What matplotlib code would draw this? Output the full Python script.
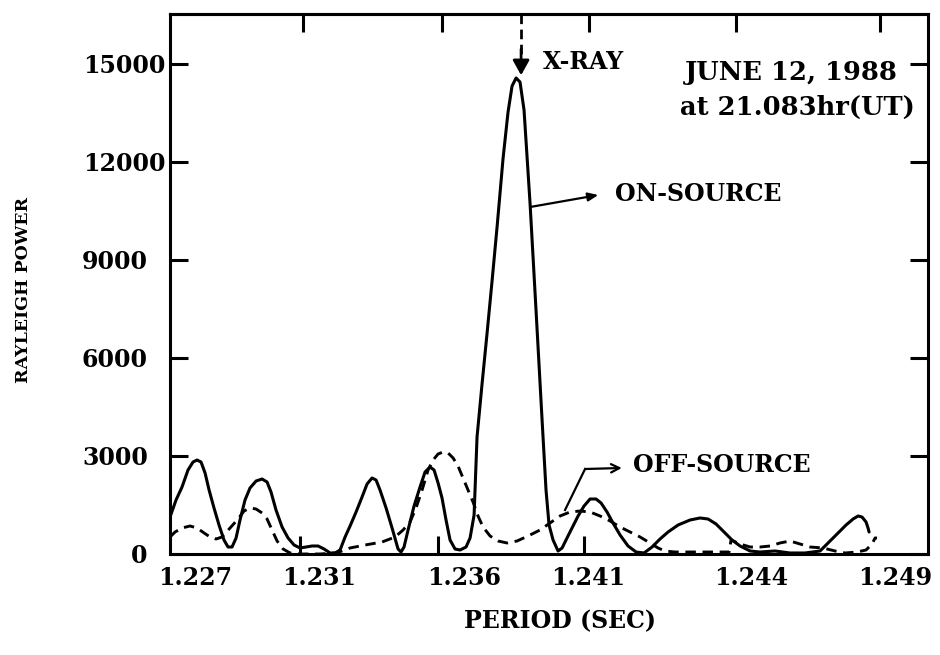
import matplotlib
matplotlib.use('Agg')
import matplotlib.pyplot as plt
from matplotlib.transforms import ScaledTranslation

plt.rcParams['font.family'] = ['DejaVu Serif']
plt.rcParams['font.weight'] = 'bold'

# ---- data (x is a relative position across the period axis, 0..100) ----
on_x = [0.0, 0.79, 1.58, 2.37, 3.03, 3.56, 4.09, 4.62, 5.15, 5.80,
        6.46, 7.12, 7.65, 8.18, 8.71, 9.23, 9.89, 10.55, 11.35, 12.14,
        12.80, 13.32, 13.98, 14.78, 15.57, 16.36, 17.15, 17.94, 18.73, 19.53,
        20.32, 21.11, 21.77, 22.43, 23.09, 23.75, 24.54, 25.33, 25.99, 26.65,
        27.18, 27.70, 28.50, 29.29, 30.08, 30.47, 30.87, 31.40, 32.19, 32.98,
        33.64, 34.30, 34.83, 35.36, 35.88, 36.41, 36.94, 37.60, 38.26, 39.05,
        39.58, 40.11, 40.50, 41.16, 41.82, 42.48, 43.14, 43.93, 44.59, 45.12,
        45.65, 46.17, 46.70, 47.49, 48.28, 49.08, 49.60, 50.00, 50.53, 51.19,
        51.72, 52.37, 53.03, 53.83, 54.62, 55.41, 56.20, 56.86, 57.65, 58.44,
        59.37, 60.42, 61.48, 62.53, 63.59, 64.64, 65.70, 67.02, 68.60, 69.92,
        70.98, 72.03, 73.09, 74.14, 75.20, 76.52, 77.84, 79.82, 81.79, 83.77,
        85.75, 87.07, 88.13, 89.18, 90.11, 90.77, 91.29, 91.82, 92.08, 92.22]
on_power = [1132, 1652, 2050, 2570, 2815, 2876, 2815, 2479, 1958, 1408,
            887, 428, 214, 214, 490, 1040, 1652, 2020, 2234, 2295,
            2203, 1897, 1346, 826, 490, 275, 184, 214, 245, 245,
            153, 31, 31, 122, 520, 857, 1285, 1744, 2142, 2326,
            2264, 1958, 1408, 796, 153, 61, 214, 734, 1469, 2050,
            2509, 2662, 2570, 2173, 1714, 1040, 428, 153, 122, 214,
            490, 1193, 3580, 5202, 6750, 8350, 10000, 12100, 13525, 14321,
            14566, 14443, 13586, 10741, 7466, 4100, 1958, 887, 428, 92,
            184, 490, 796, 1163, 1469, 1683, 1683, 1561, 1285, 949,
            581, 245, 61, 31, 214, 459, 673, 887, 1040, 1102,
            1071, 918, 673, 428, 245, 92, 61, 92, 31, 31,
            92, 398, 643, 887, 1071, 1163, 1132, 979, 796, 673]

off_x = [0.0, 0.66, 1.58, 2.64, 3.56, 4.49, 5.28, 6.07, 6.86, 7.92,
         8.97, 9.76, 10.55, 11.35, 12.14, 12.80, 13.46, 14.12, 14.91, 15.83,
         17.15, 19.79, 21.77, 22.69, 23.75, 25.73, 27.97, 29.68, 30.74, 31.66,
         32.45, 33.25, 34.04, 34.70, 35.36, 36.02, 36.68, 37.34, 37.99, 38.65,
         39.31, 39.97, 40.63, 41.29, 42.22, 43.27, 44.46, 45.78, 47.23, 48.81,
         50.13, 51.45, 52.77, 54.09, 55.41, 56.73, 58.05, 59.37, 60.69, 62.01,
         63.32, 64.38, 65.30, 66.62, 68.60, 70.58, 72.56, 73.75, 74.01, 75.20,
         76.52, 77.84, 79.16, 80.47, 81.79, 83.11, 84.43, 86.15, 87.73, 89.05,
         90.63, 91.82, 92.61, 93.01, 93.27]
off_power = [520, 673, 796, 857, 796, 643, 520, 459, 520, 796,
             1071, 1316, 1408, 1377, 1255, 1071, 734, 398, 153, 31,
             0, 0, 31, 92, 184, 275, 367, 520, 734, 979,
             1408, 1958, 2570, 2876, 3060, 3121, 3091, 2938, 2693, 2326,
             1958, 1591, 1163, 826, 551, 398, 337, 398, 551, 734,
             949, 1163, 1285, 1316, 1285, 1163, 1010, 826, 673, 520,
             337, 184, 92, 61, 61, 61, 61, 61, 428, 306,
             214, 214, 245, 337, 398, 306, 214, 184, 92, 31,
             61, 122, 306, 490, 490]

xtick_labels = ['1.227', '1.231', '1.236', '1.241', '1.244', '1.249']
xtick_label_pos = [3.30, 19.66, 38.79, 55.15, 76.65, 95.65]
xtick_marks_bottom = [17.15, 35.36, 54.62]
xtick_marks_top = [17.55, 35.88, 55.28, 74.67, 93.67]
ytick_vals = [0, 3000, 6000, 9000, 12000, 15000]
ytick_labels = ['0', '3000', '6000', '9000', '12000', '15000']
xray_x = 46.31

# ---- figure ----
fig = plt.figure(figsize=(9.4, 6.55), dpi=100)
ax = fig.add_axes([0.1809, 0.1542, 0.8064, 0.8244])
ax.set_xlim(0, 100)
ax.set_ylim(0, 16524)

lw = 2.2
ax.plot(on_x, on_power, color='black', lw=lw, solid_joinstyle='round',
        solid_capstyle='round')
ax.plot(off_x, off_power, color='black', lw=lw * 0.95, dashes=(3.6, 2.3),
        dash_joinstyle='round')

for s in ax.spines.values():
    s.set_linewidth(lw)

fs = 17
# x ticks: labels at hand-lettered positions, marks separately
ax.set_xticks(xtick_label_pos)
ax.set_xticklabels(xtick_labels, fontsize=fs, fontweight='bold')
ax.tick_params(axis='x', which='major', length=0, pad=9)
ax.set_xticks(xtick_marks_bottom, minor=True)
ax.tick_params(axis='x', which='minor', direction='in', length=13, width=lw,
               bottom=True, top=False)

sec = ax.secondary_xaxis('top')
sec.set_xticks(xtick_marks_top)
sec.set_xticklabels([])
sec.tick_params(direction='in', length=13, width=lw)
sec.spines['top'].set_linewidth(lw)

ax.set_yticks(ytick_vals)
ax.set_yticklabels(ytick_labels, fontsize=fs, fontweight='bold')
ax.tick_params(axis='y', which='major', direction='in', length=13, width=lw,
               left=True, right=True, pad=16)
for lbl in ax.get_yticklabels()[4:]:
    lbl.set_transform(lbl.get_transform() +
                      ScaledTranslation(0.18, 0, fig.dpi_scale_trans))

# ---- annotations ----
ax.plot([xray_x, xray_x], [16524, 15300], color='black', lw=lw * 0.9,
        dashes=(3.5, 2.0))
ax.annotate('', xy=(xray_x, 14650), xytext=(xray_x, 15450),
            arrowprops=dict(arrowstyle='-|>,head_width=0.5,head_length=0.9',
                            color='black', lw=lw * 0.9, shrinkA=0, shrinkB=0))
ax.text(49.2, 15055, 'X-RAY', fontsize=fs, fontweight='bold',
        ha='left', va='center')
ax.text(96.0, 14749, 'JUNE 12, 1988', fontsize=18.5, fontweight='bold',
        ha='right', va='center')
ax.text(98.3, 13678, 'at 21.083hr(UT)', fontsize=18.5, fontweight='bold',
        ha='right', va='center')

ax.annotate('', xy=(56.5, 10985), xytext=(47.5, 10618),
            arrowprops=dict(arrowstyle='-|>,head_width=0.25,head_length=0.6',
                            color='black', lw=1.6, shrinkA=0, shrinkB=0))
ax.text(58.7, 11016, 'ON-SOURCE', fontsize=fs, fontweight='bold',
        ha='left', va='center')

ax.plot([52.11, 54.75], [1346, 2601], color='black', lw=1.6)
ax.annotate('', xy=(59.6, 2632), xytext=(54.75, 2601),
            arrowprops=dict(arrowstyle='->,head_width=0.3,head_length=0.6',
                            color='black', lw=1.6, shrinkA=0, shrinkB=0))
ax.text(61.1, 2723, 'OFF-SOURCE', fontsize=fs, fontweight='bold',
        ha='left', va='center')

fig.text(0.5957, 0.0519, 'PERIOD (SEC)', fontsize=fs, fontweight='bold',
         ha='center', va='center')
fig.text(0.0245, 0.557, 'RAYLEIGH POWER', fontsize=12.5, fontweight='bold',
         ha='center', va='center', rotation=90)

fig.savefig('out.png', dpi=100)
